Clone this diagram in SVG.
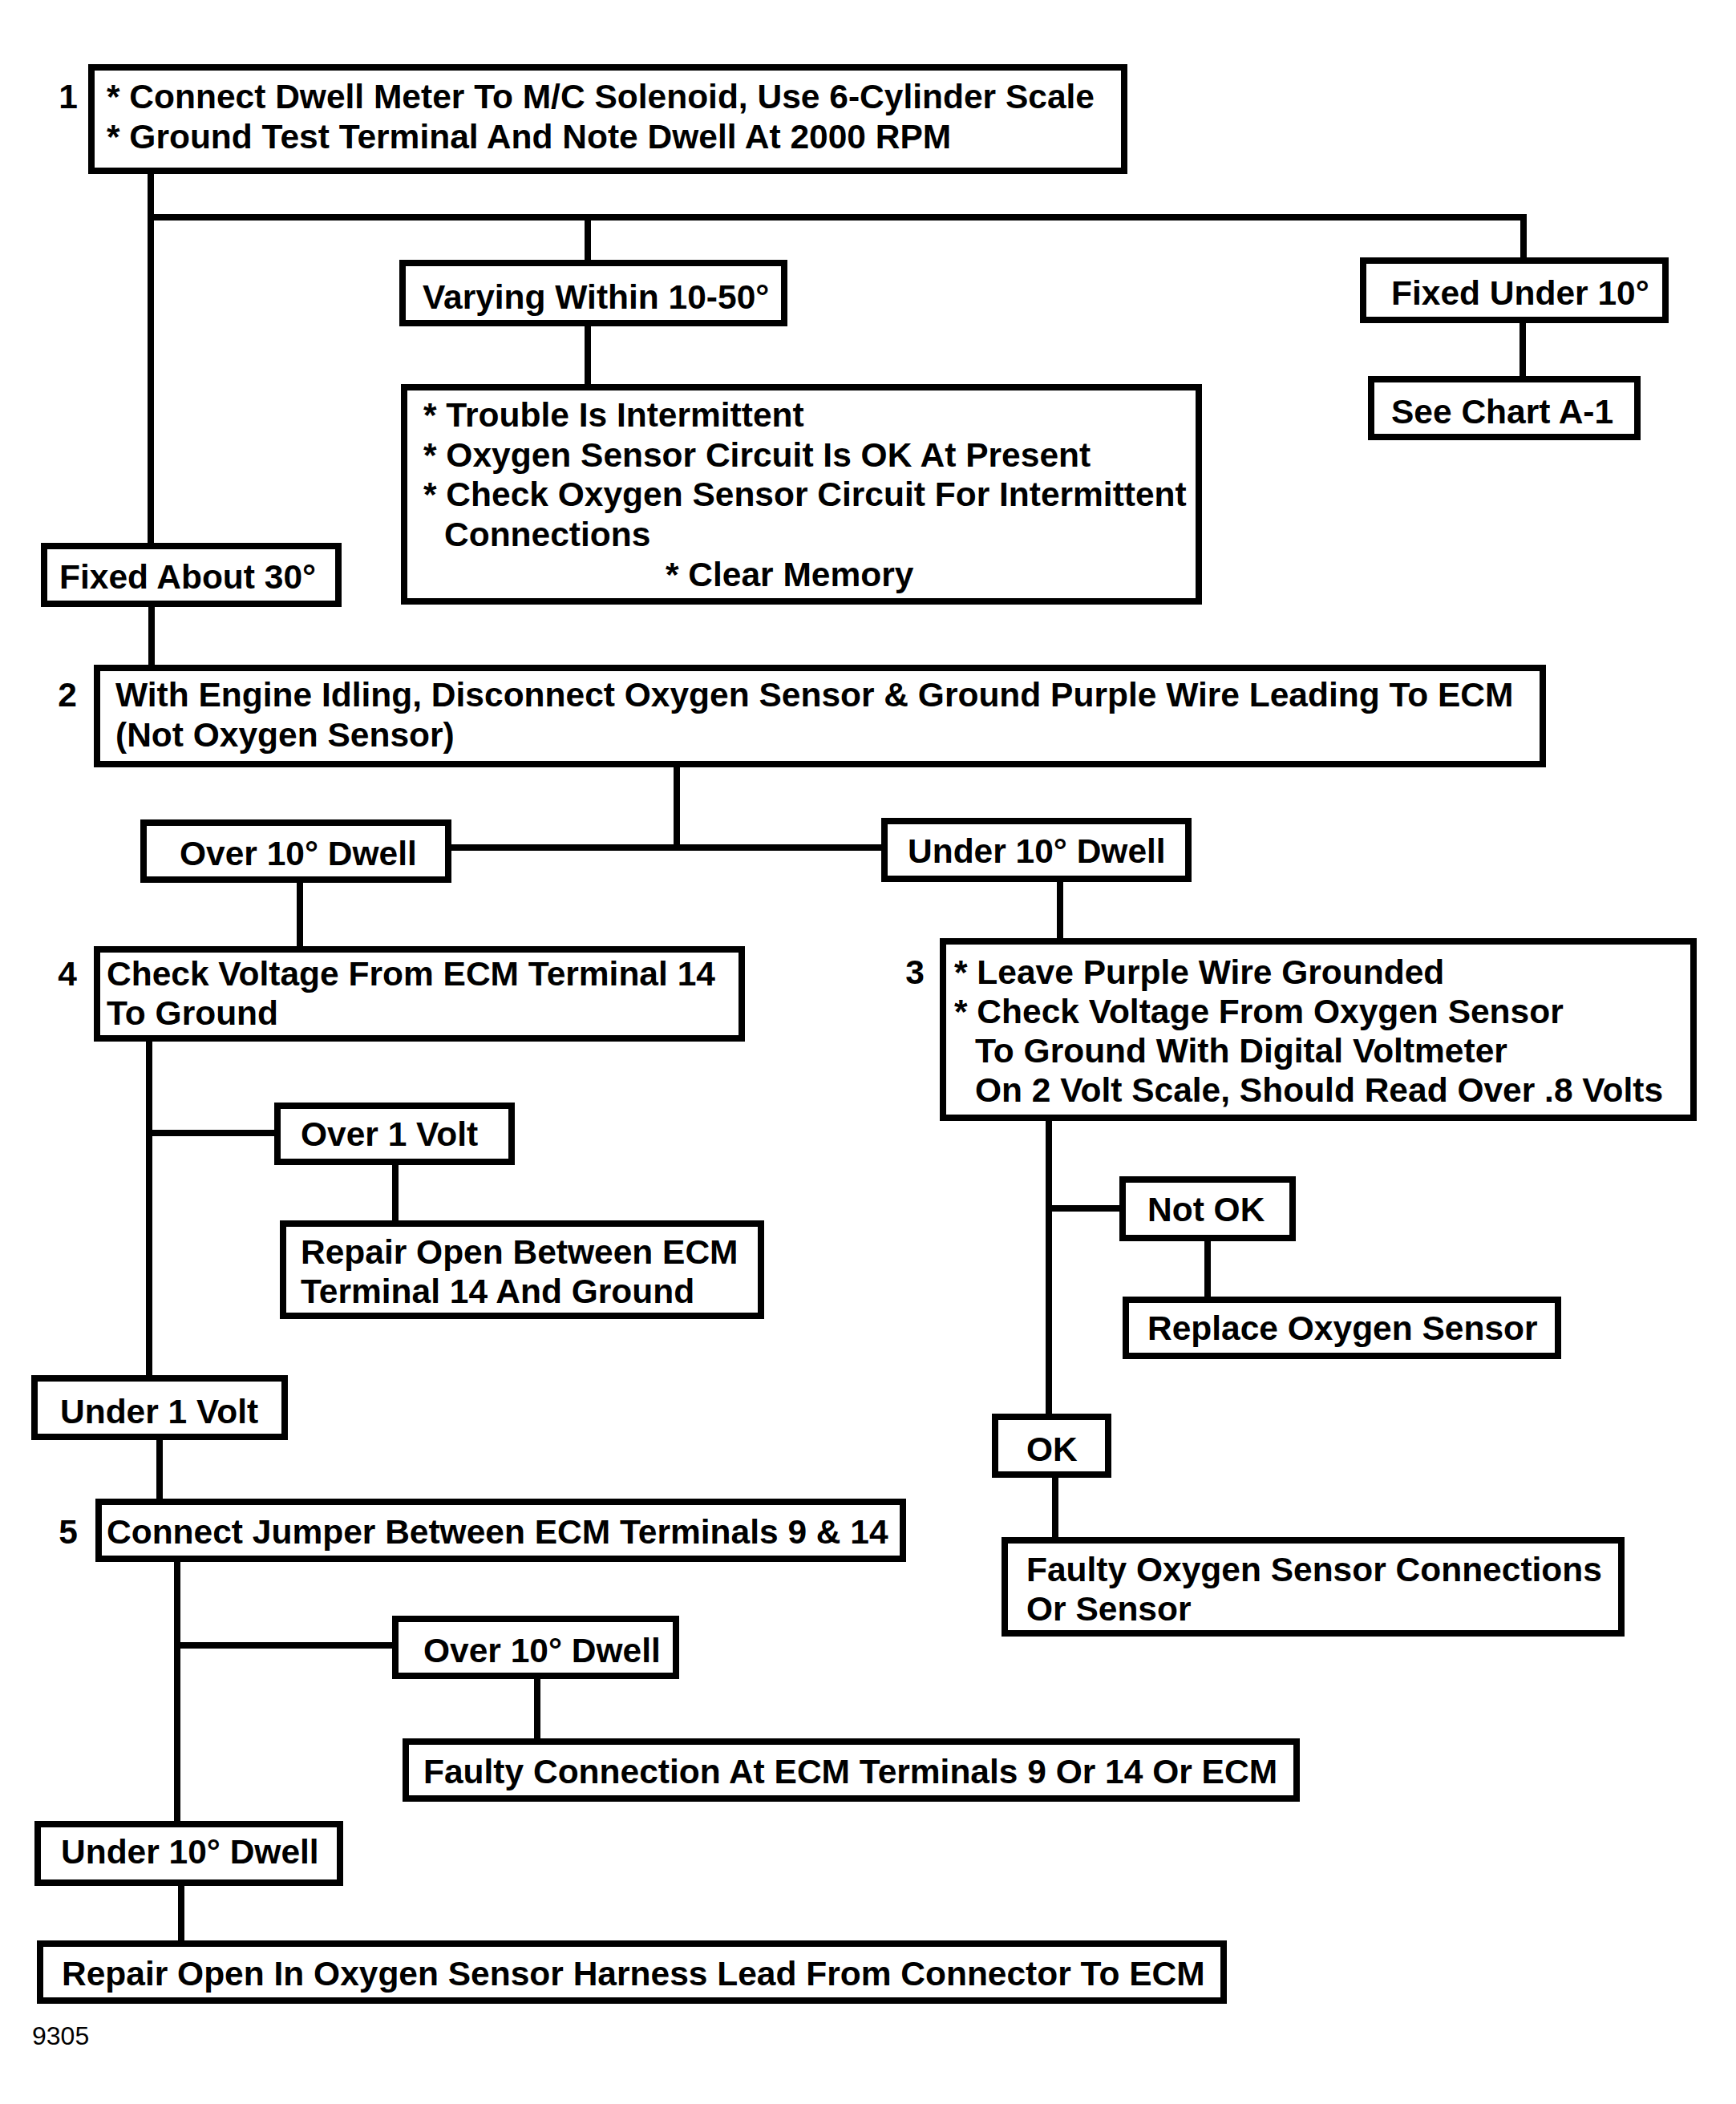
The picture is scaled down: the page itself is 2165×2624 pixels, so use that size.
<svg xmlns="http://www.w3.org/2000/svg" width="2165" height="2624" viewBox="0 0 2165 2624">
<style>
.box{fill:#fff;stroke:#000;stroke-width:8}
.t{font-family:"Liberation Sans",Arial,sans-serif;font-weight:bold;font-size:42.5px;fill:#000}
.n{font-family:"Liberation Sans",Arial,sans-serif;font-weight:bold;font-size:42.5px;fill:#000;text-anchor:middle}
.c{fill:none;stroke:#000;stroke-width:8;stroke-linecap:square;stroke-linejoin:miter}
</style>
<rect width="2165" height="2624" fill="#fff"/>
<g id="connectors">
<path class="c" d="M188 213 V681"/>
<path class="c" d="M188 271 H1900 V325"/>
<path class="c" d="M733 271 V328"/>
<path class="c" d="M733 403 V483"/>
<path class="c" d="M1899 399 V473"/>
<path class="c" d="M189 753 V833"/>
<path class="c" d="M844 953 V1057"/>
<path class="c" d="M559 1057 H1103"/>
<path class="c" d="M374 1097 V1184"/>
<path class="c" d="M1322 1096 V1174"/>
<path class="c" d="M186 1295 V1719"/>
<path class="c" d="M186 1413 H346"/>
<path class="c" d="M493 1449 V1526"/>
<path class="c" d="M1308 1394 V1767"/>
<path class="c" d="M1308 1507 H1400"/>
<path class="c" d="M1506 1544 V1621"/>
<path class="c" d="M1316 1839 V1921"/>
<path class="c" d="M199 1792 V1873"/>
<path class="c" d="M221 1944 V2275"/>
<path class="c" d="M221 2052 H493"/>
<path class="c" d="M670 2090 V2172"/>
<path class="c" d="M226 2348 V2424"/>
</g>
<g id="n1">
<rect class="box" x="114" y="84" width="1288" height="129"/>
<text class="n" x="85" y="135">1</text>
<text class="t" x="133" y="135">* Connect Dwell Meter To M/C Solenoid, Use 6-Cylinder Scale</text>
<text class="t" x="133" y="185">* Ground Test Terminal And Note Dwell At 2000 RPM</text>
</g>
<g id="varying">
<rect class="box" x="502" y="328" width="476" height="75"/>
<text class="t" x="527" y="385">Varying Within 10-50°</text>
</g>
<g id="trouble">
<rect class="box" x="504" y="483" width="991" height="267"/>
<text class="t" x="528" y="532">* Trouble Is Intermittent</text>
<text class="t" x="528" y="582">* Oxygen Sensor Circuit Is OK At Present</text>
<text class="t" x="528" y="631">* Check Oxygen Sensor Circuit For Intermittent</text>
<text class="t" x="554" y="681">Connections</text>
<text class="t" x="830" y="731">* Clear Memory</text>
</g>
<g id="fixedunder">
<rect class="box" x="1700" y="325" width="377" height="74"/>
<text class="t" x="1735" y="380">Fixed Under 10°</text>
</g>
<g id="seechart">
<rect class="box" x="1710" y="473" width="332" height="72"/>
<text class="t" x="1735" y="528">See Chart A-1</text>
</g>
<g id="fixedabout">
<rect class="box" x="55" y="681" width="367" height="72"/>
<text class="t" x="74" y="734">Fixed About 30°</text>
</g>
<g id="n2">
<rect class="box" x="121" y="833" width="1803" height="120"/>
<text class="n" x="84" y="881">2</text>
<text class="t" x="144" y="881">With Engine Idling, Disconnect Oxygen Sensor &amp; Ground Purple Wire Leading To ECM</text>
<text class="t" x="144" y="931">(Not Oxygen Sensor)</text>
</g>
<g id="over10a">
<rect class="box" x="179" y="1026" width="380" height="71"/>
<text class="t" x="224" y="1079">Over 10° Dwell</text>
</g>
<g id="under10a">
<rect class="box" x="1103" y="1024" width="379" height="72"/>
<text class="t" x="1132" y="1076">Under 10° Dwell</text>
</g>
<g id="n4">
<rect class="box" x="121" y="1184" width="804" height="111"/>
<text class="n" x="84" y="1229">4</text>
<text class="t" x="133" y="1229">Check Voltage From ECM Terminal 14</text>
<text class="t" x="133" y="1278">To Ground</text>
</g>
<g id="n3">
<rect class="box" x="1176" y="1174" width="936" height="220"/>
<text class="n" x="1141" y="1227">3</text>
<text class="t" x="1190" y="1227">* Leave Purple Wire Grounded</text>
<text class="t" x="1190" y="1276">* Check Voltage From Oxygen Sensor</text>
<text class="t" x="1216" y="1325">To Ground With Digital Voltmeter</text>
<text class="t" x="1216" y="1374">On 2 Volt Scale, Should Read Over .8 Volts</text>
</g>
<g id="over1volt">
<rect class="box" x="346" y="1379" width="292" height="70"/>
<text class="t" x="375" y="1429">Over 1 Volt</text>
</g>
<g id="repairopen">
<rect class="box" x="353" y="1526" width="596" height="115"/>
<text class="t" x="375" y="1576">Repair Open Between ECM</text>
<text class="t" x="375" y="1625">Terminal 14 And Ground</text>
</g>
<g id="notok">
<rect class="box" x="1400" y="1471" width="212" height="73"/>
<text class="t" x="1431" y="1523">Not OK</text>
</g>
<g id="replace">
<rect class="box" x="1404" y="1621" width="539" height="70"/>
<text class="t" x="1431" y="1671">Replace Oxygen Sensor</text>
</g>
<g id="under1volt">
<rect class="box" x="43" y="1719" width="312" height="73"/>
<text class="t" x="75" y="1775">Under 1 Volt</text>
</g>
<g id="ok">
<rect class="box" x="1241" y="1767" width="141" height="72"/>
<text class="t" x="1280" y="1822">OK</text>
</g>
<g id="faultyo2">
<rect class="box" x="1253" y="1921" width="769" height="116"/>
<text class="t" x="1280" y="1972">Faulty Oxygen Sensor Connections</text>
<text class="t" x="1280" y="2021">Or Sensor</text>
</g>
<g id="n5">
<rect class="box" x="123" y="1873" width="1003" height="71"/>
<text class="n" x="85" y="1925">5</text>
<text class="t" x="133" y="1925">Connect Jumper Between ECM Terminals 9 &amp; 14</text>
</g>
<g id="over10b">
<rect class="box" x="493" y="2019" width="350" height="71"/>
<text class="t" x="528" y="2073">Over 10° Dwell</text>
</g>
<g id="faultyconn">
<rect class="box" x="506" y="2172" width="1111" height="71"/>
<text class="t" x="528" y="2224">Faulty Connection At ECM Terminals 9 Or 14 Or ECM</text>
</g>
<g id="under10b">
<rect class="box" x="47" y="2275" width="377" height="73"/>
<text class="t" x="76" y="2324">Under 10° Dwell</text>
</g>
<g id="final">
<rect class="box" x="50" y="2424" width="1476" height="71"/>
<text class="t" x="77" y="2476">Repair Open In Oxygen Sensor Harness Lead From Connector To ECM</text>
</g>
<text x="40" y="2550" font-family="Liberation Sans, Arial, sans-serif" font-size="32" fill="#000">9305</text>
</svg>
